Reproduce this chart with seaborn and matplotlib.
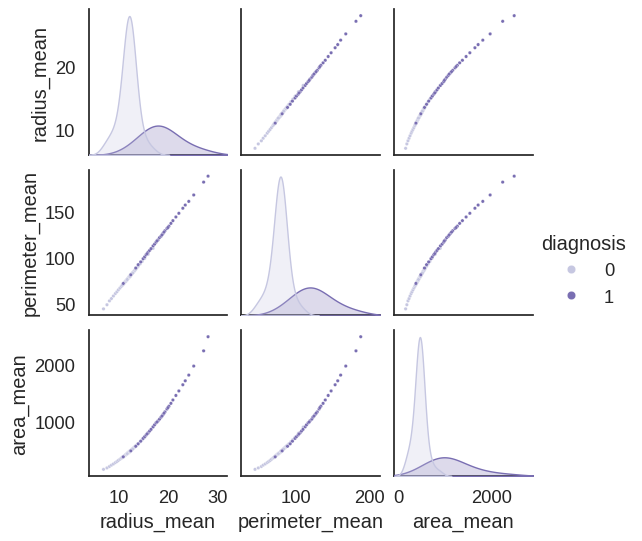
import matplotlib
matplotlib.use("Agg")
import matplotlib.pyplot as plt
import pandas as pd
import seaborn as sns

# benign (0)
radius_0 = [7.0, 7.7, 8.2, 8.6, 9.0, 9.4, 9.7, 10.0, 10.3, 10.6, 10.9, 11.1, 11.3, 11.5, 11.7,
            11.9, 12.1, 12.3, 12.5, 12.7, 12.9, 13.1, 13.4, 13.7, 14.0, 14.4, 14.8, 15.3, 16.0, 17.0,
            11.6, 12.0, 12.2, 12.4, 11.8, 12.6, 13.0, 11.4,
            11.2, 11.5, 11.7, 11.9, 12.0, 12.1, 12.2, 12.3, 12.4, 12.5, 12.6, 12.8, 13.0, 13.2,
            12.0, 12.2, 11.8, 12.4, 12.7, 13.3, 11.0, 10.8, 13.5, 12.3, 12.9]
perimeter_0 = [43.8, 48.3, 52.5, 55.0, 57.8, 60.5, 62.4, 64.5, 66.4, 68.3, 70.2, 71.6, 72.9, 74.2, 75.5,
               76.8, 78.1, 79.4, 80.7, 82.0, 83.3, 84.6, 86.5, 88.4, 90.3, 92.9, 95.5, 98.8, 103.3, 109.8,
               74.8, 77.4, 78.8, 80.0, 76.1, 81.3, 84.0, 73.5,
               72.0, 73.8, 75.0, 76.5, 77.0, 78.0, 78.5, 79.0, 79.8, 80.5, 81.0, 82.5, 83.8, 85.0,
               77.6, 78.9, 75.8, 79.6, 81.8, 85.8, 70.5, 69.5, 87.0, 79.2, 83.0]
area_0 = [152, 178, 203, 226, 248, 272, 290, 310, 330, 350, 370, 382, 398, 412, 425,
          440, 455, 470, 485, 500, 516, 530, 555, 580, 605, 640, 675, 720, 790, 900,
          418, 448, 462, 478, 432, 492, 522, 405,
          392, 410, 424, 438, 446, 452, 460, 468, 476, 484, 494, 508, 524, 540,
          450, 464, 430, 480, 500, 548, 375, 362, 565, 472, 515]

# malignant (1)
radius_1 = [11.0, 12.5, 13.5, 14.0, 14.5, 15.0, 15.3, 15.6, 16.0, 16.3, 16.6, 17.0, 17.3, 17.6, 18.0,
            18.3, 18.6, 19.0, 19.4, 19.8, 20.2, 20.6, 21.0, 21.6, 22.2, 23.0, 23.5, 24.2, 25.2, 27.2, 28.1,
            15.8, 17.8, 18.8, 19.2, 20.0]
perimeter_1 = [71.5, 81.0, 88.3, 92.0, 95.0, 98.5, 100.5, 102.8, 105.6, 107.5, 109.5, 112.5, 114.3, 116.5, 119.0,
               121.5, 123.0, 126.0, 129.0, 131.5, 134.0, 137.0, 140.0, 144.0, 148.0, 153.5, 157.0, 161.0, 168.0, 182.0, 188.5,
               104.0, 118.0, 124.5, 127.5, 132.5]
area_1 = [375, 480, 560, 605, 650, 700, 730, 760, 800, 830, 860, 905, 940, 975, 1010,
          1040, 1075, 1120, 1170, 1220, 1270, 1320, 1380, 1460, 1540, 1650, 1720, 1820, 1980, 2250, 2500,
          780, 990, 1095, 1145, 1245]

df = pd.DataFrame({
    "radius_mean": radius_0 + radius_1,
    "perimeter_mean": perimeter_0 + perimeter_1,
    "area_mean": area_0 + area_1,
    "diagnosis": [0] * len(radius_0) + [1] * len(radius_1),
})

sns.set_theme(style="white", font_scale=1.2)
plt.rcParams["font.family"] = ["Liberation Sans", "DejaVu Sans"]
g = sns.pairplot(df, hue="diagnosis", palette="Purples", height=1.75,
                 plot_kws={"s": 6}, diag_kws={"fill": True, "bw_adjust": 1.4})
g.fig.set_size_inches(6.39, 5.43)
g.fig.subplots_adjust(left=0.135, right=0.83, bottom=0.11, top=0.97, wspace=0.1, hspace=0.1)
g.axes[2, 0].set_xlim(4, 32)
g.axes[2, 0].set_xticks([10, 20, 30])
g.axes[2, 1].set_xlim(25, 215)
g.axes[2, 2].set_xlim(-100, 2900)
for h in g._legend.legend_handles:
    h.set_markersize(6)
g.savefig("out.png", dpi=100)
